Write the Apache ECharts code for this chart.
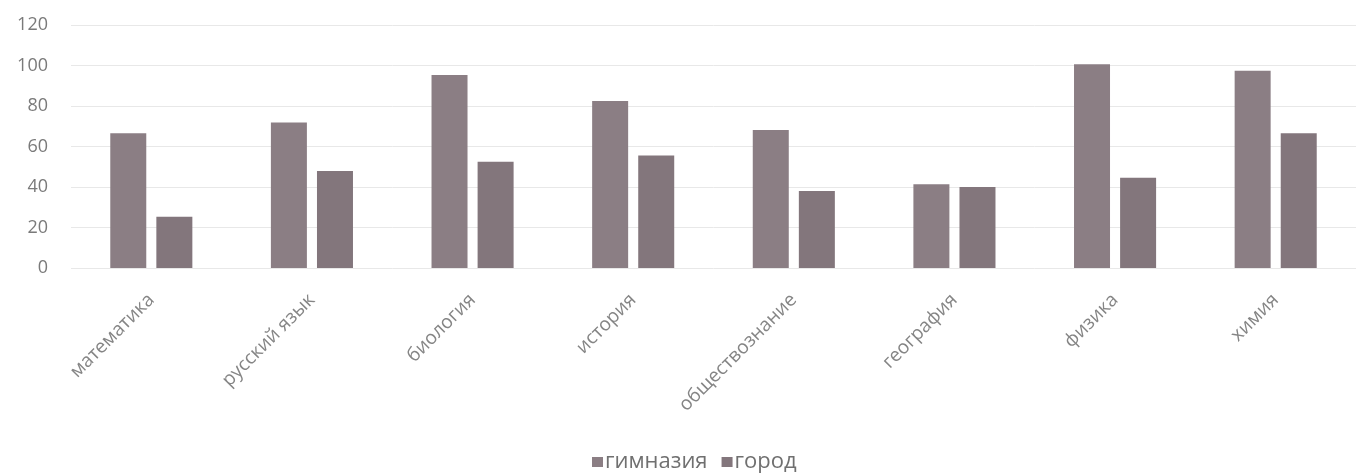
<!DOCTYPE html>
<html><head><meta charset="utf-8">
<script src="https://cdn.jsdelivr.net/npm/echarts@6/dist/echarts.min.js"></script>
<style>html,body{margin:0;padding:0;background:#fff}#c{width:1356px;height:474px}</style>
</head><body><div id="c"></div>
<script>
var categories = ['математика','русский язык','биология','история','обществознание','география','физика','химия'];
var seriesNames = ['гимназия','город'];
var gymnasium = [66.5, 71.8, 95.3, 82.5, 68.1, 41.3, 100.6, 97.4];
var city = [25.3, 47.9, 52.5, 55.5, 38, 40, 44.6, 66.5];
var yTicks = [0, 20, 40, 60, 80, 100, 120];

var chart = echarts.init(document.getElementById('c'));
chart.setOption({
  animation: false,
  backgroundColor: '#ffffff',
  grid: {left: 71, right: -8, top: 25, bottom: 206, containLabel: false},
  legend: {
    data: seriesNames, left: 592, top: 451, padding: 0, itemWidth: 11, itemHeight: 10, itemGap: 14,
    icon: 'rect',
    textStyle: {fontFamily: 'Open Sans', fontSize: 22, color: '#707070', padding: [0,0,0,-3]}
  },
  xAxis: {
    type: 'category', data: categories,
    axisLine: {show: false}, axisTick: {show: false},
    axisLabel: {rotate: 45, interval: 0, margin: 29,
      fontFamily: 'Open Sans', fontSize: 19, color: '#858585'}
  },
  yAxis: {
    type: 'value', min: 0, max: 120, interval: 20,
    axisLine: {show: false}, axisTick: {show: false},
    axisLabel: {margin: 23, fontFamily: 'Open Sans', fontSize: 18, color: '#7a7a7a',
      formatter: function(v){ return yTicks.indexOf(v) >= 0 ? String(v) : ''; }},
    splitLine: {lineStyle: {color: '#e8e8e8', width: 1}}
  },
  series: [
    {name: seriesNames[0], type: 'bar', data: gymnasium, barWidth: 36, barGap: '28%',
     itemStyle: {color: '#8b7e84'}},
    {name: seriesNames[1], type: 'bar', data: city, barWidth: 36,
     itemStyle: {color: '#83767c'}}
  ]
});
</script>
</body></html>
